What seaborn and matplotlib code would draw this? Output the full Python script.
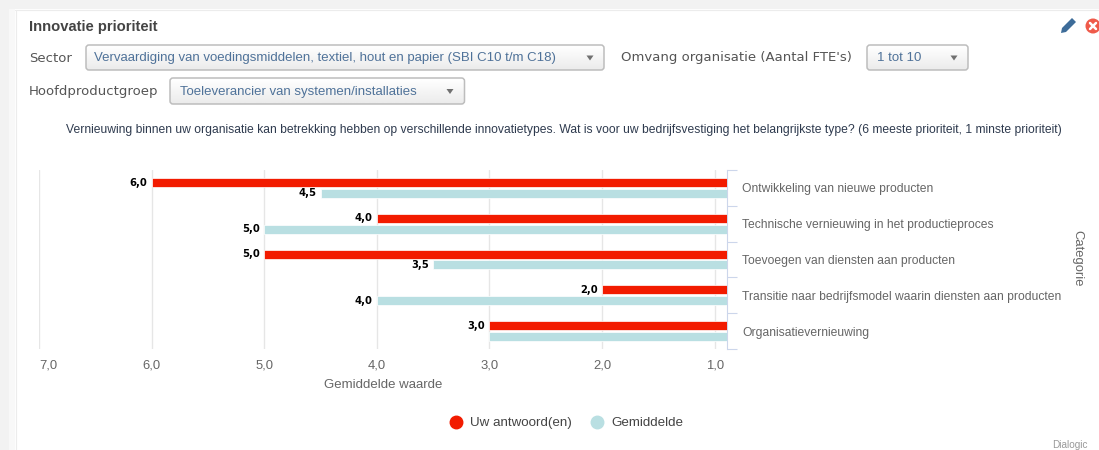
import numpy as np
import pandas as pd
import matplotlib
matplotlib.use("Agg")
import matplotlib.pyplot as plt
import seaborn as sns
from matplotlib.lines import Line2D
from matplotlib.patches import FancyBboxPatch, Rectangle, Circle, Polygon

categories = ["Ontwikkeling van nieuwe producten",
              "Technische vernieuwing in het productieproces",
              "Toevoegen van diensten aan producten",
              "Transitie naar bedrijfsmodel waarin diensten aan producten",
              "Organisatievernieuwing"]
series_names = ["Uw antwoord(en)", "Gemiddelde"]
uw_antwoord = [6.0, 4.0, 5.0, 2.0, 3.0]
gemiddelde = [4.5, 5.0, 3.5, 4.0, 3.0]
uw_labels = ["6,0", "4,0", "5,0", "2,0", "3,0"]
gem_labels = ["4,5", "5,0", "3,5", "4,0", ""]
x_ticks = [7, 6, 5, 4, 3, 2, 1]
x_tick_labels = ["7,0", "6,0", "5,0", "4,0", "3,0", "2,0", "1,0"]
colors = ["#f21b00", "#b9dfe2"]

W, H = 1099, 450
sns.set_theme(style="white")
plt.rcParams["font.family"] = ["Liberation Sans", "DejaVu Sans"]
fig = plt.figure(figsize=(W / 100, H / 100), dpi=100, facecolor="white")

# ---- page chrome, in pixel coordinates ----
ui = fig.add_axes([0, 0, 1, 1], zorder=0)
ui.set_xlim(0, W); ui.set_ylim(H, 0); ui.axis("off")
ui.add_patch(Rectangle((0, 0), W, 9, fc="#f2f2f2", ec="none"))
ui.add_patch(Rectangle((0, 0), 9, H, fc="#f2f2f2", ec="none"))
ui.add_patch(Rectangle((9, 9), 6, H, fc="#f8f8f8", ec="none"))
ui.plot([15, W], [9.5, 9.5], color="#ececec", lw=0.8)
ui.plot([15.5, 15.5], [9.5, H], color="#ececec", lw=0.8)


def px(s):
    return s * 0.72


def dropdown(x0, x1, y0, y1, label, tx, ax_):
    p = FancyBboxPatch((x0, y0), x1 - x0, y1 - y0, boxstyle="round,pad=0,rounding_size=3",
                       fc="none", ec="#bdbdbd", lw=1.1, zorder=3)
    ui.add_patch(p)
    grad = np.linspace(1, 0.92, 32).reshape(-1, 1)
    im = ui.imshow(grad, extent=(x0, x1, y1, y0), cmap="gray", vmin=0, vmax=1,
                   aspect="auto", zorder=2)
    im.set_clip_path(p)
    ui.text(tx, (y0 + y1) / 2 + 0.5, label, color="#4f7299", fontsize=px(13.2), va="center", zorder=4)
    my = (y0 + y1) / 2
    ui.add_patch(Polygon([(ax_ - 3.5, my - 2), (ax_ + 3.5, my - 2), (ax_, my + 3)],
                         fc="#707070", ec="none", zorder=4))


ui.text(29, 26.5, "Innovatie prioriteit", fontsize=px(14.7), fontweight="bold", color="#444444", va="center")
ui.text(29, 58, "Sector", fontsize=px(13.3), color="#555555", va="center", family="DejaVu Sans")
ui.text(29, 91.5, "Hoofdproductgroep", fontsize=px(13.2), color="#555555", va="center", family="DejaVu Sans")
ui.text(621, 58, "Omvang organisatie (Aantal FTE's)", fontsize=px(13.3), color="#555555", va="center",
        family="DejaVu Sans")
dropdown(86, 604, 45, 70, "Vervaardiging van voedingsmiddelen, textiel, hout en papier (SBI C10 t/m C18)", 94, 590)
dropdown(170, 464.5, 78, 104, "Toeleverancier van systemen/installaties", 180, 450)
dropdown(867, 968, 45, 70, "1 tot 10", 877, 954)
ui.text(564, 129.5, "Vernieuwing binnen uw organisatie kan betrekking hebben op verschillende innovatietypes. "
        "Wat is voor uw bedrijfsvestiging het belangrijkste type? (6 meeste prioriteit, 1 minste prioriteit)",
        fontsize=px(12.17), color="#2f3b4f", ha="center", va="center")
ui.text(1088, 444.5, "Dialogic", fontsize=px(10), color="#999999", ha="right", va="center")

# pencil and close icons
ui.add_patch(Polygon([(1061, 33), (1062, 28), (1072, 18), (1076, 22), (1066, 32)], fc="#3d6c99", ec="none"))
ui.add_patch(Circle((1093, 26), 7.5, fc="#ef5a4a", ec="none", clip_on=True))
ui.plot([1090, 1096], [23, 29], color="white", lw=1.8)
ui.plot([1090, 1096], [29, 23], color="white", lw=1.8)

# ---- chart ----
left, right, top, bottom = 39, 727, 170, 349
ax = fig.add_axes([left / W, 1 - bottom / H, (right - left) / W, (bottom - top) / H], zorder=2)
ax.patch.set_alpha(0)

df = pd.DataFrame({
    "Categorie": categories * 2,
    "Waarde": uw_antwoord + gemiddelde,
    "Reeks": [series_names[0]] * 5 + [series_names[1]] * 5,
})
sns.barplot(data=df, y="Categorie", x="Waarde", hue="Reeks", hue_order=series_names,
            palette=colors, orient="h", width=0.6, gap=0.16, saturation=1, ax=ax,
            legend=False, zorder=3, edgecolor="white", linewidth=0.5)

ax.set_xlim(7, 0.89)
ax.set_ylim(4.5, -0.5)
ax.set_xticks(x_ticks)
ax.set_xticklabels(x_tick_labels, fontsize=px(13), color="#666666")
ax.get_xticklabels()[0].set_ha("left")
ax.tick_params(axis="x", length=0, pad=7.5)
ax.grid(axis="x", color="#e6e6e6", lw=1, zorder=0)
ax.set_axisbelow(True)
ax.grid(axis="y", visible=False)
ax.set_xlabel("Gemiddelde waarde", fontsize=px(13.2), color="#666666", labelpad=5.5)

ax.yaxis.tick_right()
ax.set_yticks(range(5))
ax.set_yticklabels(categories, fontsize=px(12.1), color="#666666", ha="left")
ax.tick_params(axis="y", which="major", length=0, pad=px(15))
ax.set_yticks(np.arange(-0.5, 5, 1), minor=True)
ax.tick_params(axis="y", which="minor", length=px(10), width=0.8, color="#ccd6eb", right=True, left=False)
ax.yaxis.set_label_position("right")
ax.set_ylabel("Categorie", fontsize=px(13), color="#666666", rotation=270, va="center")
ax.yaxis.set_label_coords((1077 - left) / (right - left), 0.505)

for s in ["top", "left", "bottom"]:
    ax.spines[s].set_visible(False)
ax.spines["right"].set_color("#ccd6eb")
ax.spines["right"].set_linewidth(0.8)

for cont, labs in zip(ax.containers, [uw_labels, gem_labels]):
    ax.bar_label(cont, labels=labs, padding=3, fontsize=7.2, fontweight="bold", color="black",
                 family="DejaVu Sans")

handles = [Line2D([], [], marker="o", ls="none", color=c, markersize=9) for c in colors]
fig.legend(handles, series_names, ncol=2, frameon=False, loc="center",
           bbox_to_anchor=(563 / W, 1 - 423 / H), fontsize=px(13.4), labelcolor="#444444",
           handletextpad=0.05, columnspacing=0.9)

fig.savefig("out.png", dpi=100)
